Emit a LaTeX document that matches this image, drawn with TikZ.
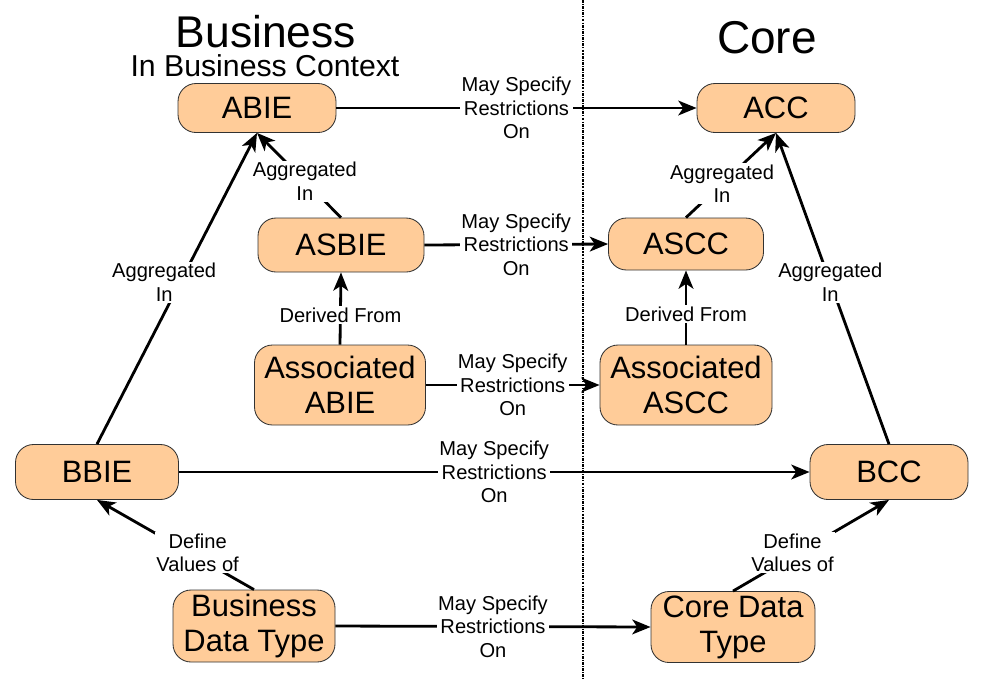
\documentclass[tikz,border=0pt]{standalone}
\usepackage{fontspec}
\setmainfont{Liberation Sans}
\usetikzlibrary{arrows.meta, positioning}
\definecolor{conceptfill}{RGB}{255,204,153}
\definecolor{conceptline}{RGB}{50,50,50}

\tikzset{
  concept/.style={draw=conceptline, line width=0.6pt, fill=conceptfill, rounded corners=0.45cm,
    align=center, inner sep=2pt, font=\fontsize{22}{25}\selectfont},
  sized/.style 2 args={minimum width=#1*0.025cm, minimum height=#2*0.025cm},
  relation/.style={line width=2pt, -{Stealth[length=13pt, width=10.5pt, inset=3.5pt]}},
  rellabel/.style={fill=white, inner sep=1pt, align=center, font=\fontsize{14.3}{16.7}\selectfont},
  heading/.style={inner sep=0pt},
  sepline/.style={line width=1.3pt, dash pattern=on 2pt off 0.8pt on 0.8pt off 0.8pt}
}

\begin{document}
\begin{tikzpicture}[x=0.025cm, y=-0.025cm]
    \useasboundingbox (0,0) rectangle (992,680);

    % Separator between business and core side
    \coordinate (septop) at (583,0);
    \coordinate (sepbot) at (583,680);
    \draw[sepline] (septop) -- (sepbot);

    % Headings
    \node[heading, font=\fontsize{31.6}{34}\selectfont] (busttl) at (266,32) {Business};
    \node[heading, font=\fontsize{21.5}{24}\selectfont] (bussub) at (265,66) {In Business Context};
    \node[heading, font=\fontsize{32.7}{35}\selectfont] (corettl) at (767,38) {Core};

    % Business side
    \node[concept, sized={158}{49}] (abie) at (257,108) {ABIE};
    \node[concept, sized={166}{54}] (asbie) at (341,245) {ASBIE};
    \node[concept, sized={171}{80}] (aabie) at (340,385) {Associated\\ABIE};
    \node[concept, sized={163}{55}] (bbie) at (97,472) {BBIE};
    \node[concept, sized={162}{72}] (bdt) at (254,626) {Business\\Data Type};

    % Core side
    \node[concept, sized={158}{49}] (acc) at (776,108) {ACC};
    \node[concept, sized={155}{52}] (ascc) at (686,244) {ASCC};
    \node[concept, sized={172}{80}] (aascc) at (686,385) {Associated\\ASCC};
    \node[concept, sized={158}{55}] (bcc) at (889,472) {BCC};
    \node[concept, sized={164}{71}] (cdt) at (733,627) {Core Data\\Type};

    % Restrictions across the line
    \foreach \src/\dst in {abie/acc, asbie/ascc, aabie/aascc, bbie/bcc, bdt/cdt} {
        \draw[relation] (\src.east) -- (\dst.west)
            node[rellabel, midway] {May Specify\\Restrictions\\On};
    }

    % Aggregation
    \draw[relation] (asbie.north) -- (abie.south)
        node[rellabel, pos=0.43] {Aggregated\\In};
    \draw[relation] (ascc.north) -- (acc.south)
        node[rellabel, pos=0.4] {Aggregated\\In};
    \draw[relation] (bbie.north) -- (abie.south)
        node[rellabel, pos=0.52, xshift=-0.4cm] {Aggregated\\In};
    \draw[relation] (bcc.north) -- (acc.south)
        node[rellabel, pos=0.52] {Aggregated\\In};

    % Derivation
    \draw[relation] (aabie.north) -- (asbie.south)
        node[rellabel, pos=0.41] {Derived From};
    \draw[relation] (aascc.north) -- (ascc.south)
        node[rellabel, pos=0.41] {Derived From};

    % Data types
    \draw[relation] (bdt.north) -- (bbie.south)
        node[rellabel, pos=0.41, xshift=0.2cm] {Define\\Values of};
    \draw[relation] (cdt.north) -- (bcc.south)
        node[rellabel, pos=0.42, xshift=-0.15cm] {Define\\Values of};
\end{tikzpicture}
\end{document}
